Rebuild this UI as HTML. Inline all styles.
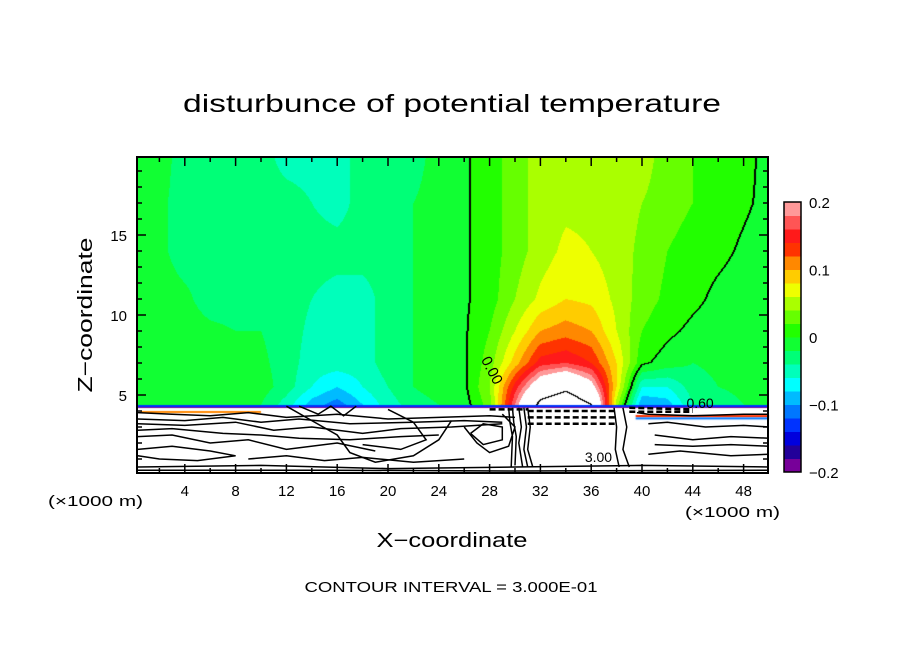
<!DOCTYPE html>
<html><head><meta charset="utf-8">
<style>
html,body{margin:0;padding:0;background:#fff;}
#wrap{position:relative;width:904px;height:654px;overflow:hidden;}
canvas,svg{position:absolute;left:0;top:0;}
text{font-family:"Liberation Sans",sans-serif;fill:#000;}
</style></head>
<body>
<div id="wrap">
<canvas id="cv" width="904" height="654"></canvas>
<svg id="sv" width="904" height="654">
<text x="452" y="112" font-size="25" text-anchor="middle" textLength="538" lengthAdjust="spacingAndGlyphs">disturbunce of potential temperature</text>
<text x="452" y="547" font-size="20" text-anchor="middle" textLength="151" lengthAdjust="spacingAndGlyphs">X−coordinate</text>
<text transform="translate(92,315) rotate(-90)" font-size="20" text-anchor="middle" textLength="155" lengthAdjust="spacingAndGlyphs">Z−coordinate</text>
<text x="48" y="506" font-size="15" textLength="95" lengthAdjust="spacingAndGlyphs">(×1000 m)</text>
<text x="685" y="517" font-size="15" textLength="95" lengthAdjust="spacingAndGlyphs">(×1000 m)</text>
<text x="451" y="592" font-size="15" text-anchor="middle" textLength="293" lengthAdjust="spacingAndGlyphs">CONTOUR INTERVAL = 3.000E-01</text>
<g id="ticks"></g>
<g id="lower"></g>
<g id="cbar"></g>
</svg>
</div>
<script>
// grid data
const xs=[0,2,4,6,8,10,12,14,16,18,20,22,24,26,28,30,32,34,36,38,40,42,44,46,48,50];
const zs=[20,17,14,11,9,7,5.5,4.4];
const row20=[-1,-1,-3,-3,-3,-3,-5,-5,-5,-3,-3,-3,-1,-0.3,1,3,5,5,5,5,5,3,2,1,0.5,-0.5];
const row17=[-1,-1.5,-3,-3,-3,-3,-3,-4,-5,-3,-3,-2,-1,-0.3,1,3,5,5.5,5.5,5,4,3,2,1,0.3,-0.5];
const row14=[-1,-1.5,-3,-3,-3,-3,-3,-3,-3,-3,-3,-2,-1,-0.3,1,3,5,6.5,6,5,3.5,2,1,0.5,-0.3,-1];
const row11=[-1,-1,-1.5,-3,-3,-3,-3,-4,-5,-5,-3,-2,-1,-0.3,1,4,6.5,8,7.5,5.5,3,1.5,0.5,-0.5,-1,-1];
const row9=[-1,-1,-1,-1.5,-2,-2,-3,-4.5,-5,-5,-3,-2,-1,-0.3,2,6,10,11,10,6,2,0.5,-0.5,-1,-1,-1];
const row7=[-1,-1,-1,-1,-1,-1.5,-3,-5,-5,-5,-3,-2,-1,-0.3,3,9,15,16,14,8,0.5,-1,-2,-1.5,-1,-1];
const row55=[-1,-1,-1,-1,-1,-1,-3,-6,-8,-6,-4,-2,-1,-0.5,4,15,24,28,22,8,-6,-6,-3,-2,-1.5,-1];
const row44=[-1,-1,-1.5,-1,-1,-2,-5,-9,-11,-8,-5,-3,-2,-1,3,18,32,36,30,5,-10,-9,-4,-3,-2,-2];
const rows=[row20,row17,row14,row11,row9,row7,row55,row44];
const cbLabels=["0.2","0.1","0","−0.1","−0.2"];
const cbValues=[0.2,0.1,0,-0.1,-0.2];
const xTicks=[4,8,12,16,20,24,28,32,36,40,44,48];
const yTicks=[5,10,15];
// lower region contour lines (x in km, z in km)
const lowerLines=[
 [[0.3,3.9],[3,3.8],[6,3.7],[9,3.9],[12,3.6],[16,3.8],[20,3.5],[24,3.6],[28,3.7],[30,3.6]],
 [[0.3,3.5],[4,3.4],[7,3.6],[10,3.3],[13,3.5],[17,3.2],[22,3.3],[26,3.4],[29,3.3]],
 [[0.3,3.2],[4,3.1],[8,3.3],[11,2.8],[14,3.0],[18,2.6],[21,2.9],[25,3.0],[29,3.2]],
 [[0.3,2.8],[3,2.9],[7,2.6],[10,2.5],[13,2.3],[17,2.2],[21,2.4],[24,2.5]],
 [[0.3,2.4],[3,2.5],[6,2.0],[9,2.2],[12,1.6],[16,2.0],[19,1.5]],
 [[0.3,1.6],[3,1.8],[6,1.5],[8,1.2],[5,0.9],[2,1.0],[0.3,1.2]],
 [[9,1.0],[12,1.2],[15,0.9],[18,1.1],[22,0.8],[26,1.0]],
 [[12,4.3],[14,3.4],[16,2.5],[17,1.4],[19,0.8],[22,1.2],[24,2.2],[25,3.4]],
 [[13,4.3],[14.5,3.8],[15.5,4.3],[16.5,3.7],[17.5,4.3]],
 [[20,4.1],[22,3.3],[23,2.2],[21,1.6],[18,1.9]],
 [[26,3.0],[27,2.0],[28,1.4],[29.5,1.8],[30,3.0],[29,3.8]],
 [[26.5,2.6],[27.5,1.9],[29,2.2],[29,3.0],[27.5,3.2],[26.5,2.6]],
 [[29.5,4.2],[29.6,3.3],[29.8,2.4],[29.7,0.5]],
 [[29.8,4.2],[29.9,3.3],[30.1,2.4],[30.0,0.6]],
 [[30.3,4.2],[30.5,3.0],[30.3,2.0],[30.6,0.5]],
 [[30.7,4.2],[30.9,3.0],[30.7,1.6],[31.0,0.5]],
 [[31.0,4.2],[31.2,3.0],[31.0,1.6],[31.4,0.5]],
 [[37.8,4.2],[38.0,3.0],[37.9,1.6],[38.2,0.5]],
 [[38.5,4.2],[38.8,3.0],[38.5,1.6],[39,0.5]],
 [[39.6,3.9],[40.5,3.8],[44,3.7],[48,3.8],[50,3.8]],
 [[40.5,3.2],[42,3.3],[45,3.0],[48,3.1],[50,3.0]],
 [[41,2.5],[44,2.2],[47,2.4],[50,2.3]],
 [[41,1.9],[44,1.8],[47,1.9],[50,1.8]],
 [[40.5,1.3],[43,1.5],[47,1.2],[50,1.3]],
 [[0.3,0.5],[10,0.6],[20,0.4],[30,0.5],[40,0.6],[50,0.5]],
 [[0.3,0.3],[15,0.3],[30,0.25],[50,0.3]]
];
const dashLines=[
 [[31,4.0],[38,4.0]],[[31,3.6],[38,3.6]],[[31,3.2],[38,3.2]],[[28,4.1],[31,4.1]],[[39,4.2],[44,4.1]],[[39,3.95],[44,3.95]]
];
const colors=["#770099","#220099","#0000dd","#0033ff","#0077ff","#00bbff","#00ffff","#00ffbb","#00ff77","#11ff33","#22ff00","#66ff00","#aaff00","#eeff00","#ffcc00","#ff8800","#ff3300","#ff1a1a","#ff5555","#ff9999"];

const PL=137,PR=768,PT=157,PB=473;
function X(v){return 134+12.7*v;}
function Y(z){return 475-16*z;}
function iv(v){return (v-134)/12.7;}
function iz(y){return (475-y)/16;}
function field(v,z){
  let i=Math.min(xs.length-2,Math.max(0,Math.floor(v/2)));
  let tx=(v-xs[i])/(xs[i+1]-xs[i]); tx=Math.max(0,Math.min(1,tx));
  let j=0; while(j<zs.length-2 && z<zs[j+1]) j++;
  let tz=(zs[j]-z)/(zs[j]-zs[j+1]); tz=Math.max(0,Math.min(1,tz));
  const a=rows[j][i]*(1-tx)+rows[j][i+1]*tx;
  const b=rows[j+1][i]*(1-tx)+rows[j+1][i+1]*tx;
  return (a*(1-tz)+b*tz)/100;
}
function col(val){
  if(val>=0.2||val<-0.2) return [255,255,255];
  const k=Math.floor((val+0.2)/0.02);
  const h=colors[Math.max(0,Math.min(19,k))];
  return [parseInt(h.substr(1,2),16),parseInt(h.substr(3,2),16),parseInt(h.substr(5,2),16)];
}
const cv=document.getElementById('cv');const ctx=cv.getContext('2d');
ctx.fillStyle="#fff";ctx.fillRect(0,0,904,654);
const yBot=Math.round(Y(4.4));
const W=PR-PL,H=yBot-PT;
const img=ctx.createImageData(W,H);
const vals=[];
for(let py=0;py<H;py++){const r=[];for(let px=0;px<W;px++){r.push(field(iv(PL+px+0.5),iz(PT+py+0.5)));}vals.push(r);}
function lvl(x){return x>=0.3?2:(x>=0?1:0);}
for(let py=0;py<H;py++)for(let px=0;px<W;px++){
  const v=vals[py][px];let c=col(v);
  const l=lvl(v);
  const rN=px+1<W?lvl(vals[py][px+1]):l, dN=py+1<H?lvl(vals[py+1][px]):l;
  const lN=px>0?lvl(vals[py][px-1]):l;
  if(rN!==l||dN!==l||lN!==l) c=[0,0,0];
  const o=(py*W+px)*4;img.data[o]=c[0];img.data[o+1]=c[1];img.data[o+2]=c[2];img.data[o+3]=255;
}
ctx.putImageData(img,PL,PT);
// interface strip
ctx.fillStyle="#0033ff";ctx.fillRect(PL,yBot,W,2);
ctx.fillStyle="#770099";ctx.fillRect(PL,yBot+2,W,1);
ctx.fillStyle="#ff8800";ctx.fillRect(X(0.5),Y(4.0),X(10)-X(0.5),2);
ctx.fillStyle="#ff3300";ctx.fillRect(X(39.5),Y(3.75),X(50)-X(39.5),2);
ctx.fillStyle="#0077ff";ctx.fillRect(X(39.5),Y(3.6),X(50)-X(39.5),2);

const NS="http://www.w3.org/2000/svg";
function mk(tag,attrs,parent){const e=document.createElementNS(NS,tag);for(const k in attrs)e.setAttribute(k,attrs[k]);parent.appendChild(e);return e;}
// zero-contour label
const lab=mk('text',{x:X(27.3),y:Y(7.2),'font-size':'15',transform:`rotate(62 ${X(27.3)} ${Y(7.2)})`},document.getElementById('sv'));
lab.textContent="0.00";


const lab2=mk('text',{x:X(43.5),y:Y(4.2),'font-size':'14'},document.getElementById('sv'));
lab2.textContent="0.60";


// lower lines
const lower=document.getElementById('lower');
lowerLines.forEach(pts=>{
  const p=mk('polyline',{points:pts.map(q=>X(q[0])+","+Y(q[1])).join(" "),fill:"none",stroke:"#000","stroke-width":"1.5"},lower);
  
  
});
dashLines.forEach(pts=>{
  const p=mk('polyline',{points:pts.map(q=>X(q[0])+","+Y(q[1])).join(" "),fill:"none",stroke:"#000","stroke-width":"2.5","stroke-dasharray":"6,3"},lower);
  
  
});
const lab3=mk('text',{x:X(35.5),y:Y(0.8),'font-size':'14'},lower);
lab3.textContent="3.00";


// axes
const tg=document.getElementById('ticks');
const fr=mk('rect',{x:PL,y:PT,width:PR-PL,height:PB-PT,fill:"none",stroke:"#000","stroke-width":"2"},tg);


for(let v=2;v<50;v+=2){
  const len=(v%4===0)?9:5;
  mk('line',{x1:X(v),x2:X(v),y1:PB,y2:PB-len,stroke:"#000","stroke-width":"1.5"},tg);
  mk('line',{x1:X(v),x2:X(v),y1:PT,y2:PT+len,stroke:"#000","stroke-width":"1.5"},tg);
}
for(let z=1;z<20;z++){
  const len=(z%5===0)?9:5;
  mk('line',{x1:PL,x2:PL+len,y1:Y(z),y2:Y(z),stroke:"#000","stroke-width":"1.5"},tg);
  mk('line',{x1:PR,x2:PR-len,y1:Y(z),y2:Y(z),stroke:"#000","stroke-width":"1.5"},tg);
}
xTicks.forEach(v=>{
  const t=mk('text',{x:X(v),y:496,'font-size':'15','text-anchor':'middle'},tg);t.textContent=v;
  
  
});
yTicks.forEach(z=>{
  const t=mk('text',{x:127,y:Y(z)+6,'font-size':'15','text-anchor':'end'},tg);t.textContent=z;
  
  
});
// colorbar
const cb=document.getElementById('cbar');
const cbT=202,cbB=472,cbL=784,cbW=17;
function CY(v){return cbB-(v+0.2)/0.4*(cbB-cbT);}
colors.forEach((c,k)=>{
  const lo=-0.2+0.02*k;
  const r=mk('rect',{x:cbL,y:CY(lo+0.02),width:cbW,height:CY(lo)-CY(lo+0.02)+0.5,fill:c},cb);
  
  
});
mk('rect',{x:cbL,y:cbT,width:cbW,height:cbB-cbT,fill:"none",stroke:"#000","stroke-width":"1.5"},cb);
cbValues.forEach((v,k)=>{
  const t=mk('text',{x:809,y:CY(v)+6,'font-size':'15'},cb);t.textContent=cbLabels[k];
  
  
});
</script>
</body></html>
